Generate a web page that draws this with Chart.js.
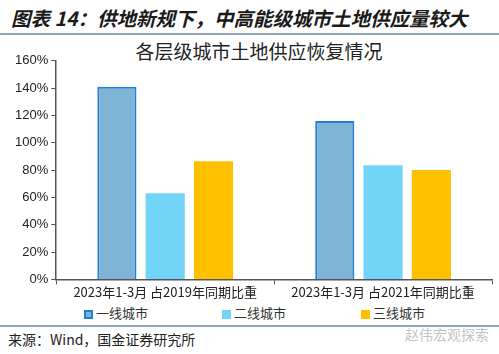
<!DOCTYPE html>
<html>
<head>
<meta charset="utf-8">
<script src="https://cdn.jsdelivr.net/npm/chart.js@4"></script>
<style>
  body { margin: 0; width: 499px; height: 354px; background: #fff; overflow: hidden;
         font-family: "Noto Sans CJK SC", sans-serif; position: relative; }
  #header { position: absolute; left: 11px; top: 3px; font-size: 19.5px; font-weight: bold;
            font-style: italic; color: #1a1a1a; white-space: nowrap; }
  .rule { position: absolute; left: 0; width: 499px; height: 2px; background: #8fa4b8; }
  #title { position: absolute; left: 0; width: 518px; top: 37px; text-align: center;
           font-size: 19px; color: #222; white-space: nowrap; }
  #wrap { position: absolute; left: 0; top: 50px; width: 499px; height: 250px; }
  #legend { position: absolute; top: 305px; left: 0; width: 499px; height: 16px; }
  .item { position: absolute; top: 0; font-size: 13px; color: #333; white-space: nowrap; line-height: 16px; }
  .box { display: inline-block; width: 9px; height: 9px; margin-right: 3px; vertical-align: -1px; box-sizing: border-box; }
  #source { position: absolute; left: 8px; top: 329px; font-size: 14px; color: #222; white-space: nowrap; }
  #mark { position: absolute; left: 405px; top: 324px; font-size: 14px; color: #c4c4c4; white-space: nowrap; }
</style>
</head>
<body>
<div id="header">图表 14：供地新规下，中高能级城市土地供应量较大</div>
<div class="rule" style="top:33px"></div>
<div id="title">各层级城市土地供应恢复情况</div>
<div id="wrap"><canvas id="landChart"></canvas></div>
<div id="legend"></div>
<div class="rule" style="top:325px"></div>
<div id="source">来源：Wind，国金证券研究所</div>
<div id="mark">赵伟宏观探索</div>
<script>
// chart data
const categories = ['2023年1-3月 占2019年同期比重', '2023年1-3月 占2021年同期比重'];
const seriesNames = ['一线城市', '二线城市', '三线城市'];
const tier1 = [141, 116];
const tier2 = [63, 83.5];
const tier3 = [86.5, 80];
const yTicks = [0, 20, 40, 60, 80, 100, 120, 140, 160];

const fills = ['#7fb4d6', '#72d4f6', '#ffc000'];
const borders = ['#1f7fd8', '#72d4f6', '#ffc000'];
const legendX = [84, 222, 361];

// legend built by hand so items can sit far apart
const legendEl = document.getElementById('legend');
seriesNames.forEach((name, i) => {
    const item = document.createElement('div');
    item.className = 'item';
    item.style.left = legendX[i] + 'px';
    const box = document.createElement('span');
    box.className = 'box';
    box.style.background = fills[i];
    if (i === 0) box.style.border = '2px solid ' + borders[0];
    item.appendChild(box);
    item.appendChild(document.createTextNode(name));
    legendEl.appendChild(item);
});

const ctx = document.getElementById('landChart');

new Chart(ctx.getContext('2d'), {
    type: 'bar',
    data: {
        labels: categories,
        datasets: [
            { label: seriesNames[0], data: tier1, backgroundColor: fills[0], borderColor: borders[0], borderWidth: 2 },
            { label: seriesNames[1], data: tier2, backgroundColor: fills[1], borderWidth: 0 },
            { label: seriesNames[2], data: tier3, backgroundColor: fills[2], borderWidth: 0 }
        ]
    },
    options: {
        responsive: true,
        maintainAspectRatio: false,
        animation: false,
        categoryPercentage: 0.665,
        barPercentage: 0.81,
        layout: { padding: { left: 12, right: 7, top: 4, bottom: 0 } },
        plugins: {
            legend: { display: false },
            title: { display: false },
            tooltip: { enabled: false }
        },
        scales: {
            x: {
                grid: { display: true, offset: true, drawOnChartArea: false, tickLength: 5, color: '#555' },
                border: { color: '#555', width: 1.5 },
                ticks: {
                    color: '#222',
                    padding: 0,
                    maxRotation: 0,
                    font: { family: '"Noto Sans CJK SC"', size: 13 }
                }
            },
            y: {
                min: 0,
                max: 160,
                afterBuildTicks: function(axis) {
                    axis.ticks = yTicks.map(v => ({ value: v }));
                },
                grid: { display: true, drawOnChartArea: false, tickLength: 5, color: '#555' },
                border: { color: '#555', width: 1.5 },
                ticks: {
                    autoSkip: false,
                    color: '#222',
                    padding: 3,
                    font: { family: '"Liberation Sans", Arial, sans-serif', size: 13 },
                    callback: function(value) { return value + '%'; }
                }
            }
        }
    }
});
</script>
</body>
</html>
